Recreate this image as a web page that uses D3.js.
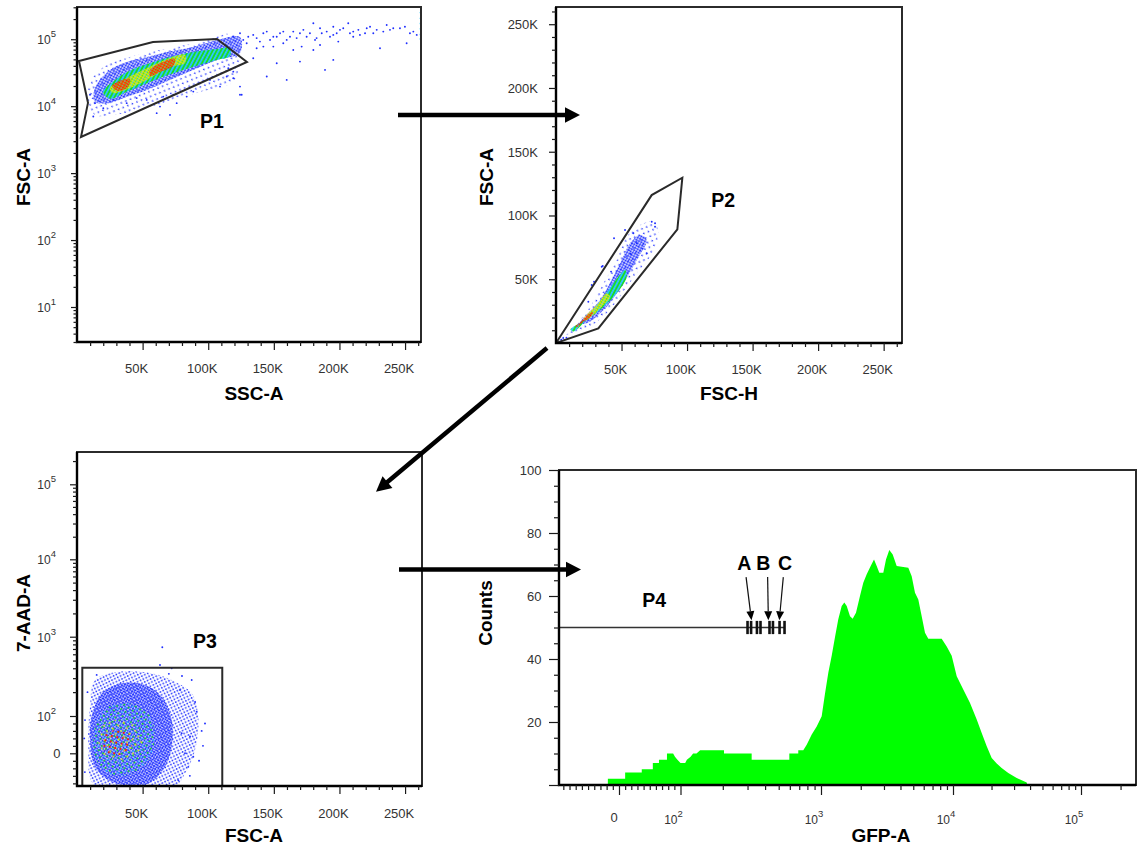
<!DOCTYPE html>
<html>
<head>
<meta charset="utf-8">
<script src="https://cdn.jsdelivr.net/npm/d3@7/dist/d3.min.js"></script>
<style>
  html,body{margin:0;padding:0;background:#fff;}
  svg{display:block;}
</style>
</head>
<body>
<svg id="fig" width="1141" height="845"></svg>
<script>
// ================= DATA =================
const linTicks = [50000, 100000, 150000, 200000, 250000];
const linTickLabels = ["50K", "100K", "150K", "200K", "250K"];
const fscLogTicks = [10, 100, 1000, 10000, 100000];
const fscLogExps = ["1", "2", "3", "4", "5"];
const biexTicks = [100, 1000, 10000, 100000];
const biexExps = ["2", "3", "4", "5"];
const countTicks = [0, 20, 40, 60, 80, 100];
const countTickLabels = ["", "20", "40", "60", "80", "100"];

// Panel 1: SSC-A (x) vs FSC-A (y, log)
const p1Gate = [[1500,47400],[57900,91000],[106700,101000],[129500,45700],[3050,3470],[8380,11200]];
const p1Halo = [[9910,23000],[21340,39900],[40390,54500],[63250,69200],[93730,91200],[120400,116000],[120400,24700],[93730,16350],[63250,10820],[32770,7670],[13720,7410],[8380,12400]];
const p1Blue = [[13700,18800],[25100,34800],[38100,45800],[53300,54500],[68600,64600],[88400,76800],[106700,97700],[124200,108000],[124200,62500],[106700,49100],[88400,34800],[70900,24700],[53300,17500],[38100,13800],[25100,11200],[13700,11600]];
const p1Green = [[19800,16400],[29000,24700],[38100,32500],[63200,49100],[88400,64600],[106700,71700],[116600,74200],[116600,56400],[106700,49100],[88400,38600],[63200,26400],[38100,16400],[25100,12900]];
const p1Yellow = [[25100,18800],[36600,25500],[50300,34800],[70900,52600],[82300,58300],[82300,44300],[70900,38600],[50300,23000],[36600,17500],[26700,15800]];
const p1RedA = [[26700,20100],[34300,24700],[40400,25500],[38900,19400],[31200,16900]];
const p1RedB = [[55600,34800],[67100,47400],[74700,50800],[73200,39900],[63200,32500],[55600,28300]];
const p1Dots = [[119100,109000],[124200,123000],[134300,116000],[139400,92100],[144600,130000],[149600,109000],[154700,123000],[159800,97700],[164800,130000],[169900,123000],[175000,109000],[180100,173000],[185200,146000],[190300,130000],[195300,154000],[200400,138000],[206700,173000],[210500,130000],[215600,116000],[220800,146000],[228400,138000],[236000,163000],[241000,146000],[249900,154000],[256300,130000],[258900,116000],[189000,34800],[195300,49100],[180100,69200],[169900,46300],[159800,24700],[152200,43800],[144600,27700],[134300,52000],[124200,19600],[124200,14800],[119100,32800],[114100,27700],[182600,104000],[230900,73500],[251200,87100],[210500,109000],[164800,69200],[149600,77600],[136900,73500],[225800,123000],[195300,116000],[12420,7000],[9910,14800],[13720,11100],[20040,9330],[27660,12400],[37870,11100],[45490,13200],[53110,12400],[63250,9860],[65760,13900],[73380,14800],[75970,11100],[83590,13900],[60730,7870],[70870,7410],[88620,16500],[93730,22000],[108970,19600],[119100,26200],[125500,14800],[101350,24700],[115290,36900],
  [126700,97700],[130500,109000],[136900,104000],[142000,123000],[147100,97700],[152200,109000],[157200,130000],[162300,109000],[167400,104000],[172500,138000],[177500,123000],[181400,97700],[186500,123000],[192800,109000],[197900,123000],[202900,146000],[208000,123000],[214400,138000],[219500,123000],[223300,154000],[233400,130000],[238500,138000],[246100,146000],[253700,123000],[129300,87100],[142000,77600],[157200,87100],[171200,77600],[185200,82200],[199100,92100]];
const p1Edge = [[261800,250000],[261800,205000],[261800,172000],[261800,143000],[261800,118000],[261800,101000]];

// Panel 2: FSC-H (x) vs FSC-A (y)
const p2Gate = [[0,0],[32300,11500],[92600,89200],[96400,129600],[73000,116000]];
const p2Outer = [[2500,2600],[9390,7610],[25960,28470],[36110,46820],[46340,65100],[53970,83370],[64130,92550],[74280,95140],[78100,86040],[71760,67690],[61610,54670],[48860,36310],[38700,23290],[25960,12780],[13210,6270],[5000,1800]];
const p2Blue = [[18320,15450],[33590,33720],[48860,62510],[56490,78200],[64130,84710],[69240,80780],[61610,65100],[51380,46820],[38700,28470],[23440,15450]];
const p2Green = [[11000,10500],[20840,18040],[36110,36310],[47560,52000],[52670,57250],[53970,52000],[46340,38980],[33590,25880],[23440,18040],[13500,9000]];
const p2Yellow = [[20840,18590],[32290,31140],[38700,38980],[41220,36310],[33590,27220],[23440,18040]];
const p2Red = [[15000,13000],[18320,16240],[25960,23290],[28470,24550],[25960,20160],[19620,15450],[15500,12000]];
const p2Dots = [[44280,82110],[34890,59840],[27250,45490],[75580,93880],[52670,88620],[73060,95140],[75580,91210],[35650,60390],[29010,48080],[24660,32390],[59010,86040],[61610,78200],[69240,70350],[66000,74000],[57000,70000],[42000,56000],[8000,4200],[5500,3900],[4000,2500]];

// Panel 3: FSC-A (x) vs 7-AAD-A (y, biexponential)
const p3Gate = [[4040,-87],[4040,406],[110700,406],[110700,-87]];
const p3Outer = [[9910,131],[13720,284],[31470,362],[56920,346],[74680,271],[87400,193],[92430,98],[89920,9],[82300,-54],[74680,-87],[13720,-87],[8610,18]];
const p3Blue = [[11200,98],[18820,193],[34060,258],[51820,246],[64540,175],[72160,89],[72160,18],[67060,-36],[54330,-80],[28960,-80],[13720,-36],[9910,36]];
const p3Green = [[13720,71],[23850,131],[39090,145],[54330,108],[59440,45],[54330,-18],[41680,-54],[23850,-54],[13720,-9]];
const p3Yellow = [[16230,62],[28960,89],[46710,71],[49300,18],[39090,-18],[21340,-9]];
const p3Red = [[18820,45],[28960,62],[41680,45],[40390,9],[28960,-5],[20040,9]];
const p3Dots = [[65000,735],[63250,440],[72160,400],[97540,80],[87400,284],[82300,0],[88620,-9],[91210,113],[78490,213],[79780,54],[6100,89],[84810,-36],[77190,-72],[86110,45],[95000,60],[93000,-20],[90000,150],[80000,320],[70000,340],[15000,330],[8000,200],[5500,40],[6000,-50],[86000,-60],[96000,20]];

// Panel 4: GFP-A histogram [GFP value, counts]
const gfpHistogram = [[-18,0],[-18,2],[10,2],[10,4],[37,4],[37,5],[55,5],[55,7],[65,7],[65,8],[78,8],[78,10],[88,10],[91,9],[95,8],[100,7],[108,7],[111,8],[118,9],[123,10],[130,10],[138,11],[204,11],[204,10],[321,10],[321,8],[595,8],[595,10],[689,10],[689,11],[748,11],[791,12.8],[859,16],[932,18.6],[1012,21.8],[1072,29],[1136,35.6],[1205,41],[1277,47],[1352,52.6],[1435,56.8],[1502,57.9],[1566,56.8],[1659,53.6],[1738,52.8],[1841,54.7],[1974,60],[2091,64.2],[2220,66.9],[2380,69.5],[2521,71.6],[2642,69.5],[2765,67.4],[2965,67.4],[3108,71.6],[3292,74.6],[3493,73.2],[3745,69.5],[4585,69],[4865,66.3],[5153,61],[5459,58.9],[5792,53.6],[6135,48.3],[6500,46.4],[8210,46.4],[8960,44],[9775,41],[10690,34.5],[12030,30.3],[13580,26],[15320,20.8],[16760,16.5],[18340,12.3],[20060,8.6],[21950,6.8],[23990,5.4],[27040,3.8],[31460,2.2],[37660,0.8],[38000,0]];
const p4GateRange = [-97, 550];
const p4GateLevel = 50;
const p4MarkerBars = [300, 318, 350, 371, 430, 455, 507, 550];
const abcNames = ["A", "B", "C"];
const abcLabelAt = [[284,68.3],[388,68.3],[554,68.3]];
const abcArrowFrom = [[293,66],[417,66],[539,66]];
const abcArrowTo = [[320,52.3],[422,52.3],[505,52.3]];

const gateNames = ["P1", "P2", "P3", "P4"];
const p1LabelAt = [102900, 4740];
const p2LabelAt = [127500, 106700];
const p3LabelAt = [97540, 720];
const p4LabelAt = [57, 56.5];

// ================= LAYOUT =================
const svg = d3.select("#fig");
const defs = svg.append("defs");
svg.attr("font-family", "'Liberation Sans', Arial, Helvetica, sans-serif");
const BLUE = "#1e2eff", CYAN = "#22c8ff", GREEN = "#18e018", YELLOW = "#f4ee00", RED = "#ff1a00";

const P1 = {l:77, r:421, t:7, b:342};
const P2 = {l:556, r:902, t:7, b:343};
const P3 = {l:77, r:422, t:452, b:786};
const P4 = {l:559, r:1136, t:470, b:785};

const x1 = d3.scaleLinear().domain([0, 262144]).range([P1.l, P1.r]);
const y1 = d3.scaleLog().domain([3, 303000]).range([P1.b, P1.t]);
const x2 = d3.scaleLinear().domain([0, 264000]).range([P2.l, P2.r]);
const y2 = d3.scaleLinear().domain([0, 263500]).range([P2.b, P2.t]);
const x3 = d3.scaleLinear().domain([0, 262900]).range([P3.l, P3.r]);

const biexT = v => v <= 100 ? v / 100 : 1 + Math.log10(v / 100);
const aadAnchors = [-87, 0, 100, 1000, 10000, 100000, 262144];
const aadLin = d3.scaleLinear().domain(aadAnchors.map(biexT))
  .range([P3.b, P3.b - 32.7, P3.b - 70, P3.b - 149.3, P3.b - 226.7, P3.b - 301.7, P3.t]);
const y3 = v => aadLin(biexT(v));
const gfpAnchors = [-97, 0, 100, 1000, 10000, 100000, 262144];
const gfpLin = d3.scaleLinear().domain(gfpAnchors.map(biexT))
  .range([P4.l, P4.l + 60, P4.l + 121.5, P4.l + 262, P4.l + 394, P4.l + 522, P4.r]);
const x4 = v => gfpLin(biexT(v));
const y4 = d3.scaleLinear().domain([0, 100]).range([P4.b, P4.t]);

function addPattern(id, tile, rot, dots) {
  const p = defs.append("pattern").attr("id", id).attr("patternUnits", "userSpaceOnUse")
    .attr("width", tile).attr("height", tile).attr("patternTransform", `rotate(${rot})`);
  dots.forEach(([fx, fy, r, c]) => p.append("circle").attr("cx", fx * tile).attr("cy", fy * tile).attr("r", r).attr("fill", c));
}
addPattern("bS", 7, 23, [[.2,.25,.85,BLUE],[.7,.75,.85,BLUE]]);
addPattern("bD", 2.6, 28, [[.5,.5,1.05,BLUE]]);
addPattern("gC", 3.6, 28, [[.25,.25,1.05,CYAN],[.75,.75,1.05,GREEN],[.75,.25,1.05,GREEN],[.25,.75,1.0,CYAN]]);
addPattern("yl", 2.6, 28, [[.5,.5,1.15,YELLOW]]);
addPattern("rd", 2.6, 28, [[.5,.5,1.15,RED]]);
addPattern("b3s", 4.5, 19, [[.25,.3,.9,BLUE],[.75,.8,.9,BLUE]]);
addPattern("b3", 2.4, 31, [[.5,.5,1.0,BLUE]]);
addPattern("g3", 5.2, 35, [[.3,.3,1,GREEN],[.8,.7,.9,CYAN]]);
addPattern("y3", 6.3, 62, [[.5,.5,1,YELLOW]]);
addPattern("r3", 5.5, 11, [[.5,.5,1.05,RED]]);

function clipFor(id, P) {
  defs.append("clipPath").attr("id", id).append("rect")
    .attr("x", P.l).attr("y", P.t).attr("width", P.r - P.l).attr("height", P.b - P.t);
}
function density(g, xs, ys, layers) {
  const ln = d3.line().x(d => xs(d[0])).y(d => ys(d[1])).curve(d3.curveCatmullRomClosed.alpha(0.5));
  layers.forEach(([poly, pat]) => g.append("path").attr("d", ln(poly)).attr("fill", `url(#${pat})`));
}
function dotsDraw(g, xs, ys, pts, color) {
  g.append("g").selectAll("circle").data(pts).join("circle")
    .attr("cx", d => xs(d[0])).attr("cy", d => ys(d[1])).attr("r", 0.95).attr("fill", color);
}
function gateDraw(g, xs, ys, poly) {
  g.append("path").attr("d", d3.line().x(d => xs(d[0])).y(d => ys(d[1]))(poly) + "Z")
    .attr("fill", "none").attr("stroke", "#2a2a2a").attr("stroke-width", 2);
}
function frame(P) {
  svg.append("rect").attr("x", P.l).attr("y", P.t).attr("width", P.r - P.l).attr("height", P.b - P.t)
    .attr("fill", "none").attr("stroke", "#2b2b2b").attr("stroke-width", 2);
  svg.append("path").attr("d", `M${P.l},${P.t}V${P.b}H${P.r}`).attr("fill", "none")
    .attr("stroke", "#000").attr("stroke-width", 2.4);
}
function ticks(orient, scale, values, size, tx, ty) {
  const ax = (orient === "b" ? d3.axisBottom(scale) : d3.axisLeft(scale))
    .tickValues(values).tickSize(size).tickSizeOuter(0);
  svg.append("g").attr("transform", `translate(${tx},${ty})`).attr("color", "#1a1a1a").call(ax)
    .call(s => { s.select(".domain").remove(); s.selectAll("text").remove(); s.selectAll("line").attr("stroke-width", 1.2); });
}
function label(x, y, s, anchor) {
  return svg.append("text").attr("x", x).attr("y", y).attr("text-anchor", anchor)
    .attr("font-size", 13).attr("fill", "#333").text(s);
}
function powLabel(x, y, exp, anchor) {
  const t = svg.append("text").attr("x", x).attr("y", y).attr("text-anchor", anchor)
    .attr("font-size", 12).attr("fill", "#333");
  t.append("tspan").text("10");
  t.append("tspan").attr("dy", -7).attr("font-size", 9.5).text(exp);
}
function title(x, y, s, rot) {
  const t = svg.append("text").attr("font-size", 19).attr("font-weight", "bold")
    .attr("fill", "#000").attr("text-anchor", "middle").text(s);
  if (rot) t.attr("transform", `translate(${x},${y}) rotate(-90)`); else t.attr("x", x).attr("y", y);
}
function bold(x, y, s) {
  svg.append("text").attr("x", x).attr("y", y).attr("text-anchor", "middle")
    .attr("font-size", 19.5).attr("font-weight", "bold").attr("fill", "#000").text(s);
}

const logMinor = [1, 10, 100, 1000, 10000, 100000].flatMap(d => [2,3,4,5,6,7,8,9].map(m => m * d));
const linMinor = d3.range(10000, 262144, 10000).filter(v => v % 50000 !== 0);

// ================= PANEL 1 =================
clipFor("c1", P1);
const g1 = svg.append("g").attr("clip-path", "url(#c1)");
density(g1, x1, y1, [[p1Halo, "bS"], [p1Blue, "bD"], [p1Green, "gC"], [p1Yellow, "yl"], [p1RedA, "rd"], [p1RedB, "rd"]]);
dotsDraw(g1, x1, y1, p1Dots, BLUE);
dotsDraw(g1, x1, y1, p1Edge, CYAN);
gateDraw(g1, x1, y1, p1Gate);
bold(x1(p1LabelAt[0]), y1(p1LabelAt[1]), gateNames[0]);
frame(P1);
ticks("b", x1, linTicks, 8, 0, P1.b);
ticks("b", x1, linMinor, 4, 0, P1.b);
ticks("l", y1, fscLogTicks, 6, P1.l, 0);
ticks("l", y1, logMinor.filter(v => v >= 3 && v <= 303000), 3.5, P1.l, 0);
linTicks.forEach((v, i) => label(x1(v) - 6, P1.b + 31, linTickLabels[i], "middle"));
fscLogTicks.forEach((v, i) => powLabel(P1.l - 21, y1(v) + 5, fscLogExps[i], "end"));
title(254, 399.5, "SSC-A");
title(30, 177, "FSC-A", true);

// ================= PANEL 2 =================
clipFor("c2", P2);
const g2 = svg.append("g").attr("clip-path", "url(#c2)");
density(g2, x2, y2, [[p2Outer, "bS"], [p2Blue, "bD"], [p2Green, "gC"], [p2Yellow, "yl"], [p2Red, "rd"]]);
dotsDraw(g2, x2, y2, p2Dots, BLUE);
gateDraw(g2, x2, y2, p2Gate);
bold(x2(p2LabelAt[0]), y2(p2LabelAt[1]), gateNames[1]);
frame(P2);
ticks("b", x2, linTicks, 8, 0, P2.b);
ticks("b", x2, linMinor, 4, 0, P2.b);
ticks("l", y2, linTicks, 7, P2.l, 0);
ticks("l", y2, linMinor, 4, P2.l, 0);
linTicks.forEach((v, i) => label(x2(v) - 6, P2.b + 31, linTickLabels[i], "middle"));
linTicks.forEach((v, i) => label(P2.l - 18, y2(v) + 5, linTickLabels[i], "end"));
title(729, 399.5, "FSC-H");
title(493, 177, "FSC-A", true);

// ================= PANEL 3 =================
clipFor("c3", P3);
const g3 = svg.append("g").attr("clip-path", "url(#c3)");
density(g3, x3, y3, [[p3Outer, "b3s"], [p3Blue, "b3"], [p3Green, "g3"], [p3Yellow, "y3"], [p3Red, "r3"]]);
dotsDraw(g3, x3, y3, p3Dots, BLUE);
gateDraw(g3, x3, y3, p3Gate);
bold(x3(p3LabelAt[0]), y3(p3LabelAt[1]), gateNames[2]);
frame(P3);
ticks("b", x3, linTicks, 8, 0, P3.b);
ticks("b", x3, linMinor, 4, 0, P3.b);
const aadMinor = [-80, -60, -40, -20, 20, 40, 60, 80].concat(logMinor.filter(v => v >= 200 && v <= 262144));
ticks("l", aadLin, [0].concat(biexTicks).map(biexT), 7, P3.l, 0);
ticks("l", aadLin, aadMinor.map(biexT), 4, P3.l, 0);
linTicks.forEach((v, i) => label(x3(v) - 6, P3.b + 32, linTickLabels[i], "middle"));
label(P3.l - 16.5, y3(0) + 4.7, "0", "end");
biexTicks.forEach((v, i) => powLabel(P3.l - 21, y3(v) + 5, biexExps[i], "end"));
title(254, 842, "FSC-A");
title(30, 613, "7-AAD-A", true);

// ================= PANEL 4 =================
clipFor("c4", P4);
const g4 = svg.append("g").attr("clip-path", "url(#c4)");
g4.append("path").datum(gfpHistogram)
  .attr("d", d3.area().x(d => x4(d[0])).y0(y4(0)).y1(d => y4(d[1])))
  .attr("fill", "#00ff00");
g4.append("line").attr("x1", x4(p4GateRange[0])).attr("x2", x4(p4GateRange[1]))
  .attr("y1", y4(p4GateLevel)).attr("y2", y4(p4GateLevel)).attr("stroke", "#333").attr("stroke-width", 1.6);
g4.selectAll("line.bar").data(p4MarkerBars).join("line").attr("class", "bar")
  .attr("x1", d => x4(d)).attr("x2", d => x4(d))
  .attr("y1", y4(p4GateLevel + 2.1)).attr("y2", y4(p4GateLevel - 2.1))
  .attr("stroke", "#111").attr("stroke-width", 2.6);
abcArrowFrom.forEach((f, i) => {
  const t = abcArrowTo[i];
  const ax = x4(f[0]), ay = y4(f[1]), bx = x4(t[0]), by = y4(t[1]);
  const L = Math.hypot(bx - ax, by - ay), ux = (bx - ax) / L, uy = (by - ay) / L;
  const hx = bx - 9 * ux, hy = by - 9 * uy;
  g4.append("line").attr("x1", ax).attr("y1", ay).attr("x2", hx).attr("y2", hy).attr("stroke", "#111").attr("stroke-width", 1.2);
  g4.append("path").attr("d", `M${bx},${by}L${hx - 4 * uy},${hy + 4 * ux}L${hx + 4 * uy},${hy - 4 * ux}Z`).attr("fill", "#000");
  bold(x4(abcLabelAt[i][0]), y4(abcLabelAt[i][1]), abcNames[i]);
});
bold(x4(p4LabelAt[0]), y4(p4LabelAt[1]), gateNames[3]);
frame(P4);
const gfpMinor = [-90,-80,-70,-60,-50,-40,-30,-20,-10,10,20,30,40,50,60,70,80,90].concat(logMinor.filter(v => v >= 200 && v <= 262144));
ticks("b", gfpLin, [0].concat(biexTicks).map(biexT), 10, 0, P4.b);
ticks("b", gfpLin, gfpMinor.map(biexT), 5, 0, P4.b);
ticks("l", y4, countTicks, 10, P4.l, 0);
ticks("l", y4, d3.range(5, 100, 5).filter(v => v % 20 !== 0), 5, P4.l, 0);
label(x4(0) - 5, P4.b + 36.5, "0", "middle");
biexTicks.forEach((v, i) => powLabel(x4(v) - 7, P4.b + 39, biexExps[i], "middle"));
countTicks.forEach((v, i) => label(P4.l - 17.5, y4(v) + 4.5, countTickLabels[i], "end"));
title(881, 842, "GFP-A");
title(492, 613, "Counts", true);

// ================= CONNECTING ARROWS =================
const arrows = [[[398, 115], [580, 115]], [[547, 348], [376, 491.7]], [[399, 569.5], [581, 569.5]]];
arrows.forEach(([a, b]) => {
  const L = Math.hypot(b[0] - a[0], b[1] - a[1]), ux = (b[0] - a[0]) / L, uy = (b[1] - a[1]) / L;
  const hx = b[0] - 15 * ux, hy = b[1] - 15 * uy;
  svg.append("line").attr("x1", a[0]).attr("y1", a[1]).attr("x2", hx + 2 * ux).attr("y2", hy + 2 * uy)
    .attr("stroke", "#000").attr("stroke-width", 4.5);
  svg.append("path").attr("d", `M${b[0]},${b[1]}L${hx - 7.7 * uy},${hy + 7.7 * ux}L${hx + 7.7 * uy},${hy - 7.7 * ux}Z`).attr("fill", "#000");
});
</script>
</body>
</html>
